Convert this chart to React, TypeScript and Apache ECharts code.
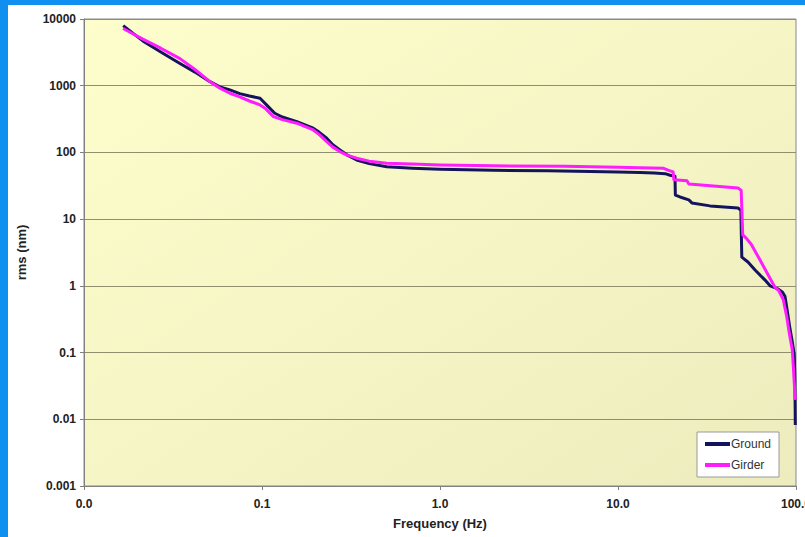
import React, { useEffect, useRef } from "react";
import * as echarts from "echarts";

const groundX = [0.0166, 0.0214, 0.027, 0.0346, 0.042, 0.051, 0.058, 0.066, 0.075, 0.085, 0.0975, 0.106, 0.118, 0.13, 0.157, 0.194, 0.21, 0.231, 0.25, 0.274, 0.3, 0.34, 0.4, 0.502, 0.7, 1.0, 2.0, 4.0, 7.0, 10.0, 13.3, 16.0, 18.4, 19.6, 20.9, 21.0, 22.3, 25.0, 26.0, 32.9, 47.2, 49.0, 49.6, 53.7, 58.9, 67.0, 71.5, 79.2, 84.0, 86.7, 89.0, 92.0, 95.5, 97.8, 98.6, 99.1];
const groundY = [7960, 4700, 3200, 2150, 1600, 1150, 960, 865, 760, 700, 650, 516, 387, 340, 290, 231, 200, 163, 130, 109, 92, 77, 68, 61, 58, 56, 54, 53, 52, 51, 50, 49, 48, 45.5, 44, 23, 21.5, 19.4, 17.5, 15.8, 14.7, 13.5, 2.7, 2.28, 1.73, 1.22, 1.0, 0.9, 0.8, 0.7, 0.45, 0.25, 0.14, 0.092, 0.04, 0.0082];

const girderX = [0.0166, 0.0214, 0.027, 0.0346, 0.042, 0.051, 0.058, 0.066, 0.075, 0.085, 0.0975, 0.105, 0.116, 0.13, 0.157, 0.194, 0.21, 0.231, 0.25, 0.274, 0.3, 0.34, 0.4, 0.502, 0.7, 1.0, 2.0, 5.0, 10.0, 13.3, 17.9, 19.6, 20.4, 20.6, 24.4, 25.0, 47.2, 49.2, 50.2, 52.5, 56.0, 62.8, 76.0, 80.0, 84.9, 88.7, 91.7, 95.3, 96.6, 97.8, 99.0];
const girderY = [7200, 5000, 3650, 2550, 1750, 1150, 920, 771, 680, 590, 515, 450, 344, 310, 274, 217, 185, 145, 120, 103, 91, 82, 74, 69, 67, 65, 63, 62, 60, 59, 58, 53, 51, 39, 37.5, 33.7, 29.4, 27, 5.8, 5.2, 4.2, 2.44, 0.96, 0.85, 0.615, 0.345, 0.195, 0.109, 0.0615, 0.0347, 0.0195];

const xTicks = [0.01, 0.1, 1, 10, 100];
const yTicks = [0.001, 0.01, 0.1, 1, 10, 100, 1000, 10000];

export default function App() {
  const ref = useRef<HTMLDivElement>(null);
  useEffect(() => {
    if (!ref.current) return;
    const chart = echarts.init(ref.current, null, { renderer: "svg" });
    const zip = (xs: number[], ys: number[]) => xs.map((x, i) => [x, ys[i]]);
    const labelStyle = {
      color: "#222",
      fontWeight: "bold" as const,
      fontSize: 12,
      fontFamily: "Liberation Sans, Arial, sans-serif",
    };
    chart.setOption({
      animation: false,
      backgroundColor: "#0f8ff0",
      graphic: [
        {
          type: "rect",
          z: -10,
          silent: true,
          shape: { x: 8, y: 5, width: 800, height: 540 },
          style: { fill: "#ffffff" },
        },
      ],
      grid: {
        left: 84,
        right: 9,
        top: 19,
        bottom: 51,
        outerBoundsMode: "none",
        containLabel: false,
        show: true,
        borderColor: "#8a8a8a",
        borderWidth: 1,
        backgroundColor: {
          type: "linear",
          x: 0,
          y: 0,
          x2: 1,
          y2: 1,
          colorStops: [
            { offset: 0, color: "#fefecc" },
            { offset: 1, color: "#ececbe" },
          ],
        },
      },
      legend: {
        orient: "vertical",
        left: 697,
        top: 432,
        padding: [6, 8, 6, 8],
        itemGap: 9,
        itemWidth: 25,
        itemHeight: 4,
        icon: "rect",
        backgroundColor: "#ffffff",
        borderColor: "#9a9a9a",
        borderWidth: 1,
        textStyle: { color: "#333", fontSize: 12, fontFamily: "Liberation Sans, Arial, sans-serif", padding: [0, 0, 0, -4] },
        data: ["Ground", "Girder"],
      },
      xAxis: {
        type: "log",
        logBase: 10,
        min: xTicks[0],
        max: xTicks[xTicks.length - 1],
        name: "Frequency (Hz)",
        nameLocation: "middle",
        nameGap: 31,
        nameTextStyle: { ...labelStyle, fontSize: 13 },
        axisLine: { show: true, lineStyle: { color: "#808080" } },
        axisTick: { show: true, length: 4, lineStyle: { color: "#808080" } },
        axisLabel: {
          ...labelStyle,
          margin: 12,
          formatter: (v: number) => v.toFixed(1),
        },
        splitLine: { show: false },
      },
      yAxis: {
        type: "log",
        logBase: 10,
        min: yTicks[0],
        max: yTicks[yTicks.length - 1],
        name: "rms (nm)",
        nameLocation: "middle",
        nameGap: 56,
        nameTextStyle: { ...labelStyle, fontSize: 13 },
        axisLine: { show: true, lineStyle: { color: "#808080" } },
        axisTick: { show: true, length: 4, lineStyle: { color: "#808080" } },
        axisLabel: {
          ...labelStyle,
          margin: 8,
          formatter: (v: number) => String(Number(v.toPrecision(6))),
        },
        splitLine: { show: true, lineStyle: { color: "#8f8f70", width: 1 } },
      },
      series: [
        {
          name: "Ground",
          type: "line",
          data: zip(groundX, groundY),
          symbol: "none",
          lineStyle: { color: "#14145e", width: 3, join: "round" },
          itemStyle: { color: "#14145e" },
          z: 2,
        },
        {
          name: "Girder",
          type: "line",
          data: zip(girderX, girderY),
          symbol: "none",
          lineStyle: { color: "#ff1cff", width: 3, join: "round" },
          itemStyle: { color: "#ff1cff" },
          z: 3,
        },
      ],
    });
    return () => chart.dispose();
  }, []);
  return (
    <div
      ref={ref}
      style={{ position: "fixed", left: 0, top: 0, width: 805, height: 537 }}
    />
  );
}
